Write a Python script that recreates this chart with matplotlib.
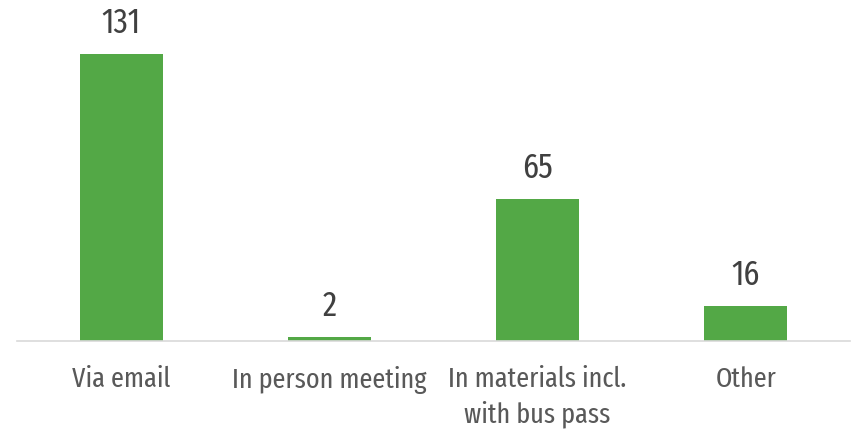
import matplotlib
matplotlib.use('Agg')
from matplotlib import pyplot as plt

categories = ['Via email', 'In person meeting', 'In materials incl.\nwith bus pass', 'Other']
counts = [131, 2, 65, 16]

plt.rcParams['font.family'] = ['Fira Sans Extra Condensed', 'DejaVu Sans']
plt.rcParams['font.weight'] = 'normal'

green = '#53a846'
text_grey = '#595959'

fig = plt.figure(figsize=(8.56, 4.34), dpi=100)
ax = fig.add_axes([0.0199, 0.2143, 0.973, 0.7857])

x = list(range(len(categories)))
bars = ax.bar(x, counts, width=0.40, color=green)

# value labels above each bar
for rect, v in zip(bars, counts):
    ax.annotate(str(v), (rect.get_x() + rect.get_width() / 2, rect.get_height()),
                xytext=(0, 15), textcoords='offset points',
                ha='center', va='baseline', fontsize=25, color='#404040')

ax.set_xlim(-0.5, len(categories) - 0.5)
ax.set_ylim(0, 155.7)
ax.set_xticks(x)
ax.set_xticklabels(categories, fontsize=20.5, color=text_grey, linespacing=1.35)
ax.tick_params(axis='x', length=0, pad=18)
ax.set_yticks([])

for side in ['top', 'right', 'left']:
    ax.spines[side].set_visible(False)
ax.spines['bottom'].set_color('#d9d9d9')
ax.spines['bottom'].set_linewidth(1.2)

fig.savefig('out.png', dpi=100)
